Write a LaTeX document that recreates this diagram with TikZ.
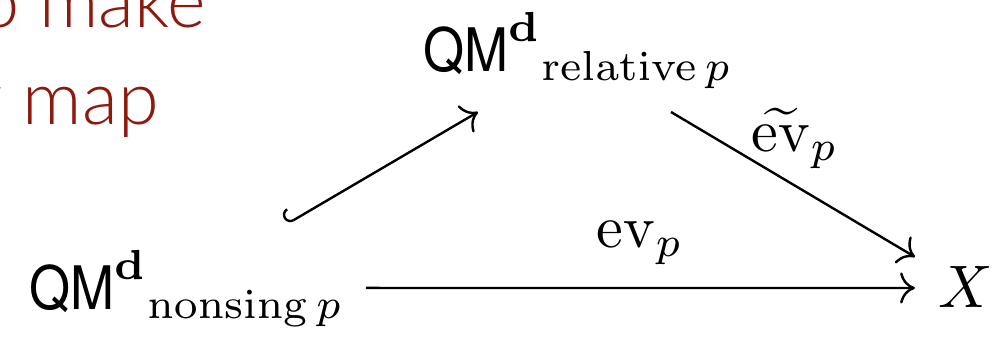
\documentclass[tikz,border=0pt]{standalone}
\usepackage[no-math]{fontspec}
\newfontfamily\qmfont{TeX Gyre Heros}[FakeStretch=0.88]
\newfontfamily\slidefont{Lato Light}
\usetikzlibrary{arrows.meta}
\definecolor{slidered}{RGB}{140,26,14}
\newcommand{\QM}{\mbox{\qmfont QM}}

\begin{document}
\begin{tikzpicture}[
    x=0.16667pt, y=-0.16667pt,
    obj/.style={inner sep=0pt},
    lbl/.style={inner sep=0pt},
    slide/.style={inner sep=0pt, text=slidered, font=\slidefont\fontsize{12.3}{14}\selectfont},
    arrow/.style={-{To}, line width=0.4pt},
    hookarrow/.style={{Hooks[right]}-{To}, line width=0.4pt}
]
\useasboundingbox (0,0) rectangle (998,338);

% Slide text behind the diagram
\node[slide, anchor=base east] (slidetop) at (207,28) {o make};
\node[slide, anchor=base east] (slidebot) at (160,125) {y map};

% Objects
\node[obj, anchor=base west] (nonsing) at (28,310) {$\QM^{\mathbf{d}}{}_{\mathrm{nonsing}\,p}$};
\node[obj, anchor=base west] (rel) at (422,72) {$\QM^{\mathbf{d}}{}_{\mathrm{relative}\,p}$};
\node[lbl, anchor=base west] (X) at (937,308) {$X$};

% Labels
\node[lbl] (ev) at (640,243) {$\mathrm{ev}_p$};
\node[lbl] (evt) at (795,138) {$\widetilde{\mathrm{ev}}_p$};

% Arrows
\draw[arrow] ([xshift=56.33pt,yshift=3.67pt]nonsing.base west) -- ([xshift=-3.67pt,yshift=3.33pt]X.base west);
\draw[hookarrow] ([xshift=43.17pt,yshift=14.33pt]nonsing.base west) -- ([xshift=9.33pt,yshift=-6.67pt]rel.base west);
\draw[arrow] ([xshift=41.5pt,yshift=-6.67pt]rel.base west) -- ([xshift=-3.67pt,yshift=8.5pt]X.base west);

\end{tikzpicture}
\end{document}
